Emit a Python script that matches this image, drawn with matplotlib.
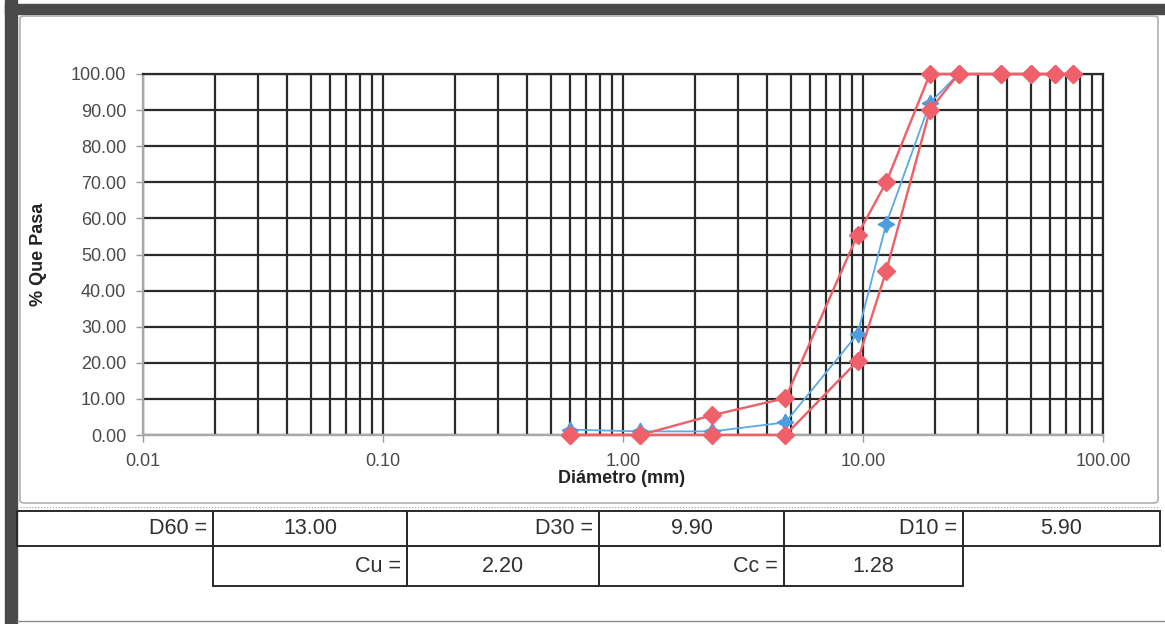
import matplotlib
matplotlib.use("Agg")
import matplotlib.pyplot as plt
from matplotlib import font_manager
from matplotlib.patches import Rectangle, FancyBboxPatch
from matplotlib.lines import Line2D

# sieve openings (mm) and % passing
diam = [75, 63, 50, 37.5, 25, 19, 12.5, 9.5, 4.75, 2.36, 1.18, 0.6]
muestra = [100, 100, 100, 100, 100, 92, 58.5, 28, 3.5, 1.0, 1.0, 1.5]
lim_sup = [100, 100, 100, 100, 100, 100, 70, 55.5, 10.2, 5.5, 0, 0]
lim_inf = [100, 100, 100, 100, 100, 90, 45.5, 20.5, 0, 0, 0, 0]

yticks = [0, 10, 20, 30, 40, 50, 60, 70, 80, 90, 100]
xticks = [0.01, 0.1, 1, 10, 100]

tab_row1 = ["D60 =", "13.00", "D30 =", "9.90", "D10 =", "5.90"]
tab_row2 = ["Cu =", "2.20", "Cc =", "1.28"]

W, H = 1165, 624
plt.rcParams['font.family'] = ['Liberation Sans', 'DejaVu Sans']
have = {f.name for f in font_manager.fontManager.ttflist}
narrow = 'Liberation Sans Narrow' in have

fig = plt.figure(figsize=(W / 100, H / 100), dpi=100)


def fx(px):
    return px / W


def fy(py):
    return 1 - py / H


# page frame (scan look)
fig.add_artist(Rectangle((fx(5), 0), fx(12), 1, color='#4a4a4a', transform=fig.transFigure, zorder=-5))
fig.add_artist(Rectangle((fx(5), fy(14)), 1, 10 / H, color='#4a4a4a', transform=fig.transFigure, zorder=-5))
fig.add_artist(FancyBboxPatch((fx(20), fy(503)), fx(1158 - 20), (503 - 16) / H,
                              boxstyle="round,pad=0,rounding_size=0.004", fc='white',
                              ec='#b0b0b0', lw=1.2, transform=fig.transFigure, zorder=-5))
fig.add_artist(Line2D([fx(20), fx(1158)], [fy(507), fy(507)], color='#9a9a9a', lw=0.8, ls=':', zorder=-5))

ax = fig.add_axes([fx(143), fy(435), fx(1103 - 143), (435 - 74) / H])
ax.patch.set_alpha(0)
ax.set_xscale('log')
ax.set_xlim(0.01, 100)
ax.set_ylim(0, 100)
ax.set_axisbelow(True)
ax.grid(True, which='both', axis='x', color='#2a2a2a', lw=1.6)
ax.grid(True, which='major', axis='y', color='#2a2a2a', lw=1.6)

ax.plot(diam, muestra, color='#5aaae6', lw=1.3, marker=(4, 1, 0), ms=12,
        mfc='#4d9de0', mec='#4d9de0', zorder=3, clip_on=False)
ax.plot(diam, lim_sup, color='#ef5f68', lw=1.7, marker='D', ms=9.5,
        mfc='#f0606a', mec='#f0606a', zorder=4, clip_on=False)
ax.plot(diam, lim_inf, color='#ef5f68', lw=1.7, marker='D', ms=9.5,
        mfc='#f0606a', mec='#f0606a', zorder=4, clip_on=False)

ax.set_yticks(yticks)
ax.set_yticklabels([f"{v:.2f}" for v in yticks])
ax.set_xticks(xticks)
ax.set_xticklabels([f"{v:.2f}" for v in xticks])
ax.tick_params(axis='x', which='minor', length=0)
ax.tick_params(axis='both', which='major', length=5, width=1, color='#9a9a9a',
               labelsize=13, labelcolor='#4a4a4a')
ax.tick_params(axis='x', which='major', pad=8)
ax.tick_params(axis='y', which='major', pad=7)

for s in ['left', 'bottom']:
    ax.spines[s].set_color('#a8a8a8')
    ax.spines[s].set_linewidth(1.7)
for s in ['top', 'right']:
    ax.spines[s].set_color('#2a2a2a')
    ax.spines[s].set_linewidth(1.6)

ax.set_xlabel("Diámetro (mm)", fontsize=13, fontweight='bold', color='#222222')
ax.xaxis.set_label_coords(0.498, -0.098)
ax.set_ylabel("% Que Pasa", fontsize=13, fontweight='bold', color='#222222')
ax.yaxis.set_label_coords(-0.100, 0.5)

# table under the chart
tfont = dict(fontsize=17, family=['Liberation Sans Narrow', 'Liberation Sans']) if narrow \
    else dict(fontsize=15.5, family=['Liberation Sans'])
edge = '#2a2a2a'
r1 = [17, 213, 407, 599, 784, 963, 1160]
r2 = [213, 407, 599, 784, 963]
for i in range(6):
    fig.add_artist(Rectangle((fx(r1[i]), fy(546)), fx(r1[i + 1] - r1[i]), 35 / H,
                             fill=False, ec=edge, lw=1.4, transform=fig.transFigure))
for i in range(4):
    fig.add_artist(Rectangle((fx(r2[i]), fy(586)), fx(r2[i + 1] - r2[i]), 40 / H,
                             fill=False, ec=edge, lw=1.4, transform=fig.transFigure))

for i, t in enumerate(tab_row1):
    if i % 2 == 0:
        fig.text(fx(r1[i + 1] - 6), fy(529), t, ha='right', va='center', color='#303030', **tfont)
    else:
        fig.text(fx((r1[i] + r1[i + 1]) / 2), fy(529), t, ha='center', va='center', color='#303030', **tfont)
for i, t in enumerate(tab_row2):
    if i % 2 == 0:
        fig.text(fx(r2[i + 1] - 6), fy(567), t, ha='right', va='center', color='#303030', **tfont)
    else:
        fig.text(fx((r2[i] + r2[i + 1]) / 2), fy(567), t, ha='center', va='center', color='#303030', **tfont)

fig.add_artist(Line2D([fx(17), fx(1165)], [fy(621), fy(621)], color='#8a8a8a', lw=1))

fig.savefig("out.png", dpi=100)
